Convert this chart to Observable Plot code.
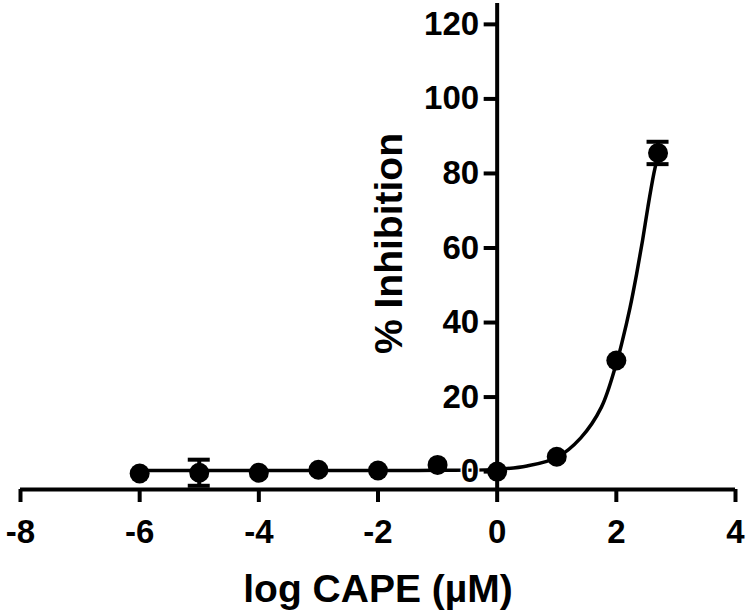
<!DOCTYPE html>
<html>
<head>
<meta charset="utf-8">
<script src="https://cdn.jsdelivr.net/npm/d3@7"></script>
<script src="https://cdn.jsdelivr.net/npm/@observablehq/plot@0.6"></script>
<style>
  html, body { margin: 0; padding: 0; background: #fff; }
  #chart { width: 750px; height: 614px; }
</style>
</head>
<body>
<div id="chart"></div>
<script>
// ---- data ----
const xTicks = [-8, -6, -4, -2, 0, 2, 4];
const yTicks = [0, 20, 40, 60, 80, 100, 120];
const logConc = [-6, -5, -4, -3, -2, -1, 0, 1, 2, 2.7];
const inhibition = [-0.5, -0.3, -0.3, 0.5, 0.3, 1.8, 0, 4, 29.8, 85.5];
const sem = [0, 3.5, 0, 0, 0, 0, 0, 0, 0, 3];
// fitted curve
const fitX = [-6, -4, -2, -1, 0, 0.5, 1, 1.4, 1.75, 2, 2.1, 2.23, 2.34, 2.44, 2.53, 2.63, 2.7];
const fitY = [0.3, 0.3, 0.3, 0.35, 0.6, 1.5, 3.8, 9, 17.3, 29, 35, 44, 53, 62, 71, 80, 85];
const xTitle = "log CAPE (\u00b5M)";
const yTitle = "% Inhibition";

const points = logConc.map((x, i) => ({x, y: inhibition[i], e: sem[i]}));
const fit = fitX.map((x, i) => ({x, y: fitY[i]}));
const errs = points.filter(d => d.e > 0);
const caps = errs.flatMap(d => [{x: d.x, y: d.y - d.e}, {x: d.x, y: d.y + d.e}]);

const yMin = -4.8, yMax = 125.6;
const font = "'Liberation Sans', Arial, Helvetica, sans-serif";

const chart = Plot.plot({
  width: 750,
  height: 614,
  marginLeft: 20,
  marginRight: 15,
  marginTop: 3,
  marginBottom: 125,
  style: {fontFamily: font, fontWeight: "bold", color: "black", background: "white"},
  x: {domain: [-8, 4]},
  y: {domain: [yMin, yMax], axis: null},
  marks: [
    // x axis
    Plot.ruleY([yMin], {stroke: "black", strokeWidth: 4}),
    Plot.axisX({
      ticks: xTicks, tickSize: 13, tickPadding: 17, strokeWidth: 4,
      fontSize: 33, fontWeight: "bold", fill: "black",
      tickFormat: d => String(d), label: null
    }),
    // y axis at x = 0
    Plot.ruleX([0], {stroke: "black", strokeWidth: 4}),
    Plot.ruleY(yTicks, {y: d => d, x1: 0, x2: 0, insetLeft: -13, stroke: "black", strokeWidth: 4}),
    // fit curve
    Plot.line(fit, {x: "x", y: "y", curve: "catmull-rom", stroke: "black", strokeWidth: 3.5}),
    // error bars
    Plot.ruleX(errs, {x: "x", y1: d => d.y - d.e, y2: d => d.y + d.e, stroke: "black", strokeWidth: 4}),
    Plot.ruleY(caps, {y: "y", x1: "x", x2: "x", insetLeft: -11, insetRight: -11, stroke: "black", strokeWidth: 4}),
    // points
    Plot.dot(points, {x: "x", y: "y", r: 10, fill: "black", stroke: "none"}),
    // y tick labels
    Plot.text(yTicks, {
      x: 0, y: d => d, text: d => String(d), textAnchor: "end", dx: -18,
      fontSize: 33, fontWeight: "bold", fill: "black",
      stroke: "white", strokeWidth: 3, paintOrder: "stroke"
    }),
    // axis titles
    Plot.text([xTitle], {
      frameAnchor: "bottom", text: d => d, dy: 100, lineAnchor: "middle",
      fontSize: 39, fontWeight: "bold", fill: "black"
    }),
    Plot.text([yTitle], {
      x: 0, frameAnchor: "middle", text: d => d, dx: -108, dy: -3, rotate: -90,
      lineAnchor: "middle", fontSize: 39, fontWeight: "bold", fill: "black"
    })
  ]
});
document.getElementById("chart").appendChild(chart);
</script>
</body>
</html>
